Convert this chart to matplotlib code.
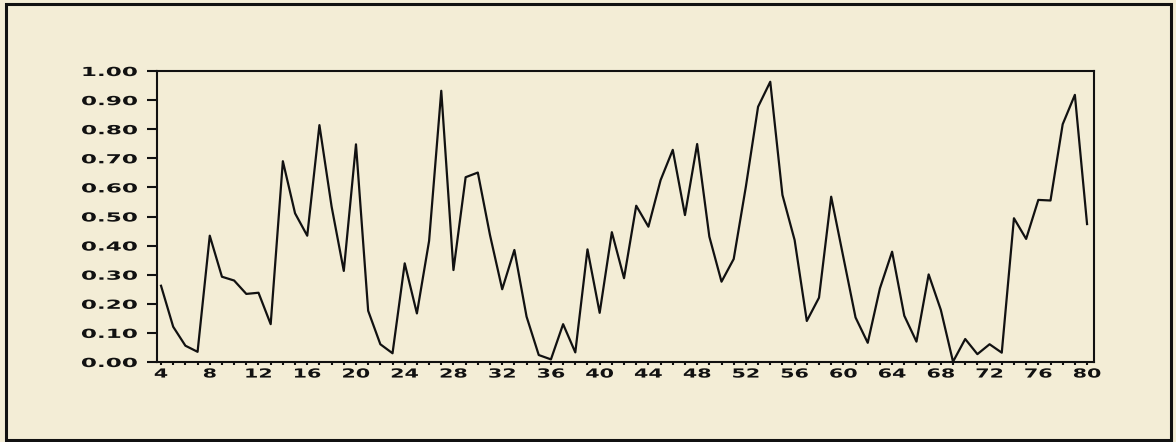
import numpy as np
import matplotlib.pyplot as plt
from matplotlib.patches import Rectangle
from matplotlib.patheffects import AbstractPathEffect
from matplotlib.transforms import Affine2D
from matplotlib.ticker import MultipleLocator, FormatStrFormatter

# lag / period index and series values
periods = list(range(4, 81))
values = [0.262, 0.121, 0.056, 0.035, 0.434, 0.293, 0.280, 0.234, 0.238, 0.130,
          0.690, 0.511, 0.434, 0.814, 0.534, 0.313, 0.748, 0.176, 0.061, 0.030,
          0.339, 0.167, 0.416, 0.932, 0.316, 0.635, 0.651, 0.436, 0.250, 0.385,
          0.156, 0.024, 0.009, 0.130, 0.033, 0.387, 0.169, 0.446, 0.288, 0.537,
          0.465, 0.625, 0.729, 0.505, 0.749, 0.431, 0.276, 0.354, 0.603, 0.877,
          0.963, 0.574, 0.419, 0.141, 0.221, 0.568, 0.360, 0.153, 0.066, 0.253,
          0.379, 0.159, 0.070, 0.301, 0.179, 0.001, 0.079, 0.027, 0.061, 0.032,
          0.494, 0.423, 0.557, 0.555, 0.817, 0.918, 0.474]
x_labels = list(range(4, 81, 4))
y_ticks = [i / 10 for i in range(11)]


class Widen(AbstractPathEffect):
    # stretch text horizontally (the original uses a wide, extended typeface)
    def __init__(self, sx, anchor='center'):
        super().__init__()
        self.sx = sx
        self.anchor = anchor

    def draw_path(self, renderer, gc, tpath, affine, rgbFace=None):
        ext = tpath.get_extents()
        cx = ext.x1 if self.anchor == 'right' else (ext.x0 + ext.x1) / 2
        tr = Affine2D().translate(-cx, 0).scale(self.sx, 1).translate(cx, 0) + affine
        renderer.draw_path(gc, tpath, tr, rgbFace)


bg = '#f3edd6'
ink = '#111111'
fig = plt.figure(figsize=(11.76, 4.42), dpi=100, facecolor=bg)

# outer frame around the whole chart
fig.patches.append(Rectangle((6 / 1176, 2 / 442), 1165 / 1176, 436 / 442,
                             transform=fig.transFigure, fill=False,
                             edgecolor=ink, linewidth=2.2))

ax = fig.add_axes([157 / 1176, 1 - 362 / 442, (1094 - 157) / 1176, (362 - 71) / 442])
ax.set_facecolor(bg)
ax.plot(periods, values, color=ink, linewidth=1.6)

ax.set_xlim(3.67, 80.57)
ax.set_ylim(0, 1)
ax.set_xticks(x_labels)
ax.xaxis.set_minor_locator(MultipleLocator(1))
ax.set_yticks(y_ticks)
ax.yaxis.set_major_formatter(FormatStrFormatter('%.2f'))

ax.tick_params(axis='both', which='both', direction='out', width=1.5,
               color=ink, labelsize=9, labelcolor=ink)
ax.tick_params(axis='x', which='both', length=2.5, pad=1.5)
ax.tick_params(axis='y', which='major', length=7, pad=7)

for lab in ax.get_xticklabels():
    lab.set_fontweight('bold')
    lab.set_path_effects([Widen(1.65, 'center')])
for lab in ax.get_yticklabels():
    lab.set_fontweight('bold')
    lab.set_path_effects([Widen(1.85, 'right')])

for s in ax.spines.values():
    s.set_color(ink)
    s.set_linewidth(1.5)

fig.savefig('out.png', dpi=100, facecolor=bg)
